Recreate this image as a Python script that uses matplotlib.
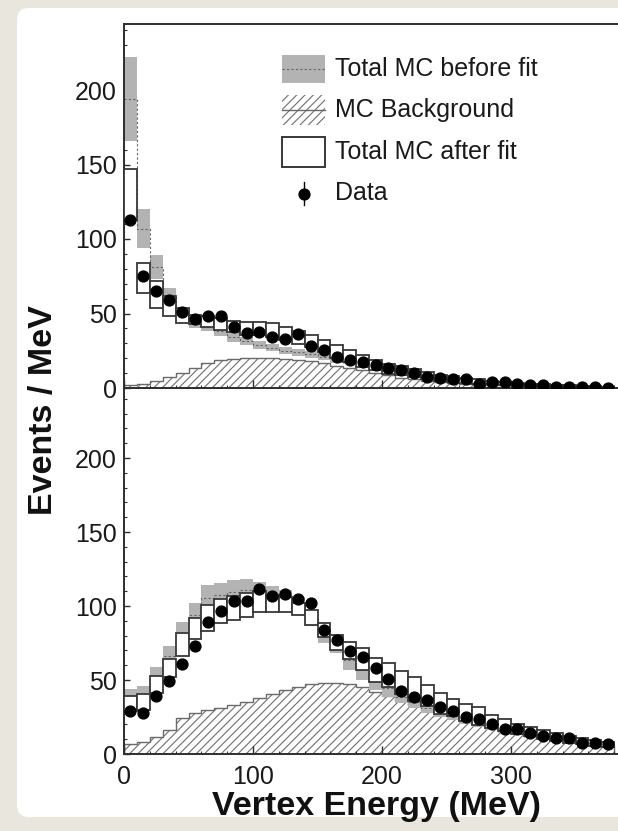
import numpy as np
import matplotlib
matplotlib.use("Agg")
import matplotlib.pyplot as plt
from matplotlib.patches import Rectangle, FancyBboxPatch
from matplotlib.lines import Line2D
from matplotlib.transforms import IdentityTransform

plt.rcParams['font.family'] = ['Liberation Sans', 'DejaVu Sans']
plt.rcParams['hatch.linewidth'] = 0.85

# ---------------- data ----------------
bin_edges = np.arange(0, 390, 10)          # MeV, 38 bins of 10 MeV
y_ticks = [0, 50, 100, 150, 200]
x_ticks = [0, 100, 200, 300]

top_data = [113, 75, 65, 59, 51, 46, 48, 48.5, 41, 37, 37.5, 34, 33, 36, 28, 25.5, 21, 19, 17.3, 15.5,
            13.5, 11.8, 10, 7.2, 7, 6, 6, 2.5, 4, 3.8, 2.5, 2.2, 2.2, 1, 1, 1, 0.5, 0]
top_bkg = [2, 3, 5, 7.5, 10, 13.5, 16.5, 18.5, 19.5, 20, 20, 20, 19.5, 19, 18, 16.5, 15, 13.5, 12, 10,
           8.5, 7, 6, 5, 4, 3.5, 3, 2.5, 2, 1.7, 1.4, 1.2, 1, 0.8, 0.7, 0.6, 0.5, 0.4]
top_before = [194, 107, 81, 61, 50, 44, 41, 38, 34, 31.5, 29, 27, 25, 24, 22.5, 21, 19.5, 18, 16.5, 14.5,
              13, 11, 9.5, 8, 6.8, 5.7, 4.8, 4, 3.3, 2.7, 2.2, 1.8, 1.5, 1.2, 1, 0.8, 0.7, 0.6]
top_before_err = [28, 13, 8, 6, 4, 3.5, 3, 3, 3, 2.5, 2.5, 2.5, 2.5, 2.5, 2.5, 2.5, 2.5, 2.2, 2, 2,
                  2, 1.8, 1.6, 1.4, 1.3, 1.2, 1.1, 1, 0.9, 0.8, 0.7, 0.6, 0.5, 0.5, 0.4, 0.4, 0.3, 0.3]
top_after = [130, 74, 63, 55, 48.6, 46, 44.6, 43, 41.3, 40, 40, 39, 36.5, 34, 31.7, 28.3, 24.5, 21.6, 18, 15.5,
             13, 11.5, 10, 8.3, 7, 6, 5.2, 4.4, 3.7, 3.1, 2.6, 2.2, 1.8, 1.5, 1.2, 1, 0.8, 0.6]
top_after_err = [17, 10, 9, 7, 5, 3, 3.5, 4, 4, 4.5, 4.5, 4.5, 4.5, 4.5, 4, 4, 4.5, 4, 4, 3.5,
                 3.3, 3, 2.6, 2.3, 2, 1.8, 1.6, 1.4, 1.2, 1, 0.9, 0.8, 0.7, 0.6, 0.5, 0.5, 0.4, 0.4]

bot_data = [29.3, 27.9, 39.2, 49.3, 60.6, 73, 89, 96.6, 103.6, 103.6, 111.3, 106.8, 107.9, 104.7, 102.2,
            83.8, 76.7, 69.6, 65.3, 57.9, 50.5, 42.8, 38.3, 36.5, 31.6, 29.3, 24.8, 23.4, 20.3, 16.7,
            16.7, 14.4, 12.4, 10.6, 10.6, 7.6, 7.6, 6.8]
bot_bkg = [6.5, 8, 11.5, 16.5, 24, 27.5, 29.5, 31, 33, 35, 38, 40.5, 43, 45.5, 47, 48, 48, 47, 45.5, 42,
           39, 36, 33, 30, 27.5, 25, 22.5, 20.5, 18.5, 16, 14, 12.5, 11, 9.5, 8.5, 7.5, 6.5, 5.5]
bot_before = [38, 40, 52, 66, 81, 94, 105.7, 107.4, 109.7, 110.5, 109, 107.4, 105, 100.6, 91.7, 81.5, 73.6,
              63.5, 57, 50, 44.3, 38.7, 34.8, 31.4, 28.6, 26.4, 23.5, 21, 19, 16.8, 14.8, 13, 11.4, 10,
              8.8, 7.7, 6.8, 6]
bot_before_err = [6, 6, 7, 7, 8.5, 8, 8.5, 8, 8, 7.5, 7, 6, 5.5, 5.5, 5.5, 6.5, 5.5, 6.5, 7, 6.5,
                  5.5, 4.5, 4, 3.8, 3.4, 3.3, 3, 2.8, 2.6, 2.4, 2.2, 2, 1.8, 1.6, 1.5, 1.4, 1.3, 1.2]
bot_after = [34, 35, 47, 58, 74, 85, 92, 96.4, 98.6, 100.7, 103, 101.8, 101, 98, 92, 83.8, 75.3, 70, 64.4,
             56.8, 53.4, 48.3, 44, 39.3, 34.3, 31.4, 28, 25.8, 21.9, 19.5, 17, 15, 13, 11.5, 10, 8.5, 7.5, 6.5]
bot_after_err = [5, 5.5, 6, 6, 8, 7, 9, 8, 8, 8, 7, 5.6, 5, 4, 5, 4.5, 5, 5.5, 7.5, 8,
                 8, 8, 8, 7, 7, 6, 6, 6, 4.5, 4, 3.5, 3, 3, 2.5, 2.5, 2, 2, 1.8]

legend_labels = ["Total MC before fit", "MC Background", "Total MC after fit", "Data"]

# ---------------- figure ----------------
W, H = 618, 831
fig = plt.figure(figsize=(W / 100, H / 100), dpi=100)
fig.patch.set_facecolor('#e9e6dd')

# white rounded card behind everything
card = FancyBboxPatch((17, H - 817), 700, 809, boxstyle="round,pad=0,rounding_size=12",
                      transform=IdentityTransform(), facecolor='white', edgecolor='none', zorder=-10)
fig.patches.append(card)

def fx(x):
    return x / W

def fy(y):
    return 1 - y / H

ax_left = fx(124)
ax_w = (640 - 124) / W
ax_top = fig.add_axes([ax_left, fy(388), ax_w, (388 - 24) / H])
ax_bot = fig.add_axes([ax_left, fy(754), ax_w, (754 - 388) / H])

centers = (bin_edges[:-1] + bin_edges[1:]) / 2
width = np.diff(bin_edges)
spine_c = '#2e2e2e'
hatch_c = '#757575'

def draw_panel(ax, data, bkg, before, before_err, after, after_err, ymax):
    ax.set_facecolor('none')
    bkg = np.asarray(bkg)
    before = np.asarray(before); before_err = np.asarray(before_err)
    after = np.asarray(after); after_err = np.asarray(after_err)
    # background, hatched
    ax.stairs(bkg, bin_edges, fill=True, facecolor='white', edgecolor=hatch_c,
              hatch='////', linewidth=0, zorder=1)
    ax.stairs(bkg, bin_edges, color='#6a6a6a', linewidth=1.0, zorder=1.2)
    # before fit: gray band + dashed line
    ax.bar(centers, 2 * before_err, bottom=before - before_err, width=width,
           color='#b3b3b3', linewidth=0, zorder=2)
    ax.stairs(before, bin_edges, color='#666666', linewidth=0.8, linestyle=(0, (2, 2)), zorder=2.2)
    # after fit: open boxes
    ax.bar(centers, 2 * after_err, bottom=after - after_err, width=width,
           facecolor='white', edgecolor='#383838', linewidth=1.3, zorder=3)
    # data
    ax.plot(centers, data, 'o', color='black', markersize=7.8, zorder=4)
    ax.set_xlim(0, 400)
    ax.set_ylim(0, ymax)
    ax.set_yticks(y_ticks)
    ax.set_yticks(np.arange(0, 250, 10), minor=True)
    ax.set_xticks(x_ticks)
    ax.set_xticks(np.arange(0, 401, 20), minor=True)
    ax.tick_params(axis='both', which='both', direction='in', colors=spine_c,
                   labelcolor='#1a1a1a', labelsize=18)
    ax.tick_params(axis='y', which='major', length=4, width=1.0, pad=5)
    ax.tick_params(axis='y', which='minor', length=2, width=0.8)
    ax.tick_params(axis='x', which='major', length=5.5, width=1.0, pad=8)
    ax.tick_params(axis='x', which='minor', length=2.5, width=0.8)
    for s in ['left', 'bottom', 'top']:
        ax.spines[s].set_color(spine_c)
        ax.spines[s].set_linewidth(1.4)
    ax.spines['right'].set_visible(False)

draw_panel(ax_top, top_data, top_bkg, top_before, top_before_err, top_after, top_after_err,
           (388 - 24) / 1.49)
draw_panel(ax_bot, bot_data, bot_bkg, bot_before, bot_before_err, bot_after, bot_after_err,
           (754 - 388) / 1.48)
ax_top.tick_params(axis='x', labelbottom=False)
ax_top.set_zorder(2)
ax_bot.set_zorder(1)

# axis titles
fig.text(fx(44), fy(410), "Events / MeV", rotation=90, ha='center', va='center',
         fontsize=24.5, fontweight='bold', color='#111111')
fig.text(fx(376), fy(815), "Vertex Energy (MeV)", ha='center', va='baseline',
         fontsize=24.5, fontweight='bold', color='#111111')

# ---------------- legend (manual) ----------------
bx0, bx1 = 282, 325
fig.patches.append(Rectangle((fx(bx0), fy(83)), fx(bx1) - fx(bx0), (83 - 55) / H,
                             transform=fig.transFigure, facecolor='#b3b3b3', edgecolor='none', zorder=5))
fig.lines.append(Line2D([fx(bx0), fx(bx1)], [fy(69), fy(69)], transform=fig.transFigure,
                        color='#666666', linewidth=0.8, linestyle=(0, (2, 2)), zorder=6))
fig.patches.append(Rectangle((fx(bx0), fy(125)), fx(bx1) - fx(bx0), (125 - 95) / H,
                             transform=fig.transFigure, facecolor='white', edgecolor=hatch_c,
                             hatch='////', linewidth=0, zorder=5))
fig.lines.append(Line2D([fx(bx0), fx(bx1)], [fy(110), fy(110)], transform=fig.transFigure,
                        color='#6a6a6a', linewidth=1.0, zorder=6))
fig.patches.append(Rectangle((fx(bx0), fy(167)), fx(bx1) - fx(bx0), (167 - 137) / H,
                             transform=fig.transFigure, facecolor='white', edgecolor='#383838',
                             linewidth=1.4, zorder=5))
fig.lines.append(Line2D([fx(304), fx(304)], [fy(182), fy(205)], transform=fig.transFigure,
                        color='black', linewidth=1.0, zorder=6))
fig.lines.append(Line2D([fx(304)], [fy(193.5)], transform=fig.transFigure, marker='o',
                        color='black', markersize=7.8, zorder=6))
for lab, yy in zip(legend_labels, [69, 110, 152, 193.5]):
    fig.text(fx(335), fy(yy), lab, ha='left', va='center', fontsize=18, color='#1a1a1a', zorder=6)

fig.savefig("out.png", dpi=100, facecolor=fig.get_facecolor())
